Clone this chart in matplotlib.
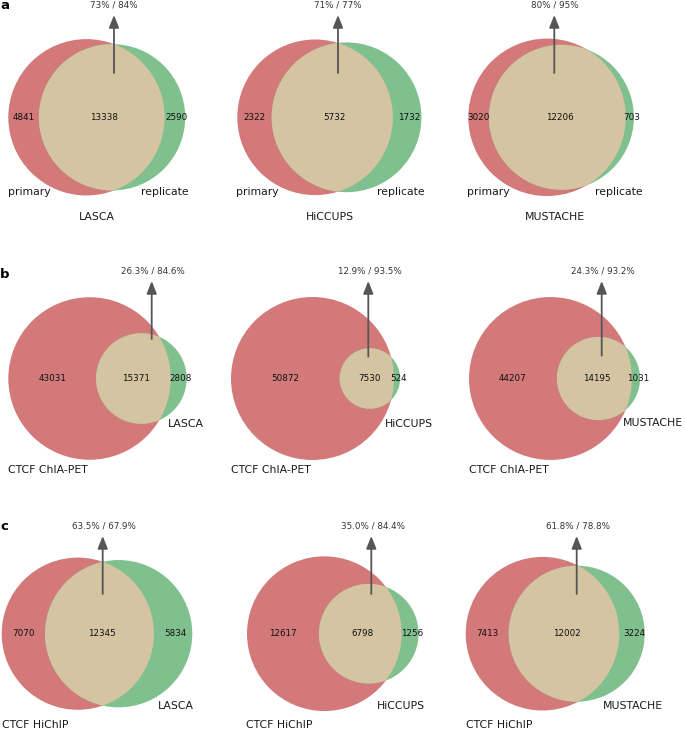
import numpy as np
import matplotlib
matplotlib.use("Agg")
import matplotlib.pyplot as plt
from matplotlib.patches import Circle

plt.rcParams['font.family'] = ['DejaVu Sans']

# ---------------- data ----------------
tools = ['LASCA', 'HiCCUPS', 'MUSTACHE']

a_only_primary = [4841, 2322, 3020]
a_shared = [13338, 5732, 12206]
a_only_replicate = [2590, 1732, 703]
a_pct = ['73% / 84%', '71% / 77%', '80% / 95%']

b_only_chiapet = [43031, 50872, 44207]
b_shared = [15371, 7530, 14195]
b_only_tool = [2808, 524, 1031]
b_pct = ['26.3% / 84.6%', '12.9% / 93.5%', '24.3% / 93.2%']

c_only_hichip = [7070, 12617, 7413]
c_shared = [12345, 6798, 12002]
c_only_tool = [5834, 1256, 3224]
c_pct = ['63.5% / 67.9%', '35.0% / 84.4%', '61.8% / 78.8%']

row_letters = ['a', 'b', 'c']
left_set_labels = ['primary', 'CTCF ChIA-PET', 'CTCF HiChIP']
right_set_labels = [['replicate'] * 3, tools, tools]

rows = [
    (a_only_primary, a_shared, a_only_replicate, a_pct),
    (b_only_chiapet, b_shared, b_only_tool, b_pct),
    (c_only_hichip, c_shared, c_only_tool, c_pct),
]

# ---------------- layout (pixels) ----------------
FW, FH = 685, 729
row_cy = [117.3, 378.5, 633.7]
row_H = [186, 192, 183]
red_left = [[8.3, 237.3, 468.3], [8.3, 231.0, 469.0], [1.7, 247.0, 465.7]]
left_lab = [[(8.3, 195), (236.3, 195), (467.3, 195)],
            [(8.3, 473.3), (231.0, 473.3), (469.0, 473.0)],
            [(1.7, 727.5), (246.3, 727.5), (466.0, 727.5)]]
right_lab = [[(140.7, 195), (377.3, 195), (595.0, 195)],
             [(168.3, 426.7), (385.0, 426.7), (622.7, 426.5)],
             [(157.7, 709.3), (377.3, 709.3), (602.7, 709.3)]]
titles_a = [(97.2, 220), (329.8, 220), (554.5, 220)]
arrow_x = [[114.0, 338.0, 554.3], [151.7, 368.3, 601.7], [102.7, 371.3, 576.7]]
pct_x = [[113.7, 338.0, 555.0], [152.8, 370.3, 603.3], [104.2, 373.0, 578.3]]
pct_y = [7.0, 273.3, 528.3]
tip_y = [15.0, 281.0, 536.0]
tail_y = [[73.0, 73.0, 73.0], [339.0, 356.7, 355.7], [594.0, 594.0, 594.0]]
letter_pos = [(0, 9), (0, 278), (0, 530)]

RED = '#D3797A'
GREEN = '#80C08F'
LENS = '#D4C4A2'
ARROW = '#555555'


def lens_area(d, r1, r2):
    if d >= r1 + r2:
        return 0.0
    if d <= abs(r1 - r2):
        return np.pi * min(r1, r2) ** 2
    a1 = r1 ** 2 * np.arccos((d ** 2 + r1 ** 2 - r2 ** 2) / (2 * d * r1))
    a2 = r2 ** 2 * np.arccos((d ** 2 + r2 ** 2 - r1 ** 2) / (2 * d * r2))
    a3 = 0.5 * np.sqrt((-d + r1 + r2) * (d + r1 - r2) * (d - r1 + r2) * (d + r1 + r2))
    return a1 + a2 - a3


def solve_distance(r1, r2, target):
    lo, hi = abs(r1 - r2), r1 + r2
    for _ in range(200):
        mid = 0.5 * (lo + hi)
        if lens_area(mid, r1, r2) > target:
            lo = mid
        else:
            hi = mid
    return 0.5 * (lo + hi)


def fx(px):
    return px / FW


def fy(py):
    return 1 - py / FH


fig = plt.figure(figsize=(FW / 100, FH / 100), dpi=100)

for ri, (only1, shared, only2, pct) in enumerate(rows):
    for ci in range(3):
        total = only1[ci] + shared[ci] + only2[ci]
        area1 = (only1[ci] + shared[ci]) / total
        area2 = (only2[ci] + shared[ci]) / total
        area12 = shared[ci] / total
        r1 = np.sqrt(area1 / np.pi)
        r2 = np.sqrt(area2 / np.pi)
        d = solve_distance(r1, r2, area12)
        s = row_H[ri] / (2 * max(r1, r2) + 0.2)
        cx = red_left[ri][ci] + r1 * s
        cy = row_cy[ri]

        ax = fig.add_axes([0, 0, 1, 1])
        ax.set_xlim(-cx / s, (FW - cx) / s)
        ax.set_ylim((cy - FH) / s, cy / s)
        ax.set_axis_off()
        ax.patch.set_alpha(0)

        c_red = Circle((0, 0), r1, facecolor=RED, edgecolor='none', zorder=1)
        ax.add_patch(c_red)
        c_green = Circle((d, 0), r2, facecolor=GREEN, edgecolor='none', zorder=2)
        ax.add_patch(c_green)
        c_lens = Circle((d, 0), r2, facecolor=LENS, edgecolor='none', zorder=3)
        ax.add_patch(c_lens)
        c_lens.set_clip_path(c_red)

        # subset counts
        x10 = (-r1 + (d - r2)) / 2
        x11 = ((d - r2) + r1) / 2 + 2.5 / s
        x01 = (r1 + d + r2) / 2 + 2.0 / s
        for xv, val in [(x10, only1[ci]), (x11, shared[ci]), (x01, only2[ci])]:
            ax.text(xv, 0, str(val), ha='center', va='center', fontsize=6.3,
                    color='#111111', zorder=5)

        # arrow to percentage text
        ax_x = (arrow_x[ri][ci] - cx) / s
        ax.annotate('', xy=(ax_x, (cy - tip_y[ri]) / s),
                    xytext=(ax_x, (cy - tail_y[ri][ci]) / s),
                    arrowprops=dict(arrowstyle='-|>,head_length=0.75,head_width=0.3',
                                    color=ARROW, lw=1.3, shrinkA=0, shrinkB=0),
                    zorder=6)
        fig.text(fx(pct_x[ri][ci]), fy(pct_y[ri]), pct[ci], ha='center',
                 va='baseline', fontsize=6.3, color='#333333')

        # set labels
        lx, ly = left_lab[ri][ci]
        fig.text(fx(lx), fy(ly), left_set_labels[ri], ha='left', va='baseline',
                 fontsize=7.8, color='#1a1a1a')
        rx, ry = right_lab[ri][ci]
        fig.text(fx(rx), fy(ry), right_set_labels[ri][ci], ha='left', va='baseline',
                 fontsize=7.8, color='#1a1a1a')

        if ri == 0:
            tx, ty = titles_a[ci]
            fig.text(fx(tx), fy(ty), tools[ci], ha='center', va='baseline',
                     fontsize=7.8, color='#1a1a1a')

for letter, (lx, ly) in zip(row_letters, letter_pos):
    fig.text(fx(lx), fy(ly), letter, ha='left', va='baseline', fontsize=9.5,
             fontweight='bold', color='black')

fig.savefig('out.png', dpi=100)
